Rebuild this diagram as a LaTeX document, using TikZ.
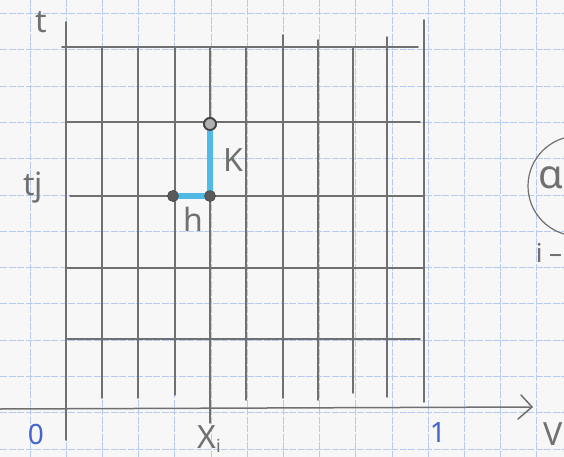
\documentclass[tikz,border=0pt]{standalone}
\usepackage{fontspec}
\setmainfont{Noto Sans}
\definecolor{paper}{RGB}{247,247,247}
\definecolor{gridblue}{RGB}{182,203,238}
\definecolor{pencil}{RGB}{112,112,112}
\definecolor{hl}{RGB}{80,185,228}
\definecolor{ink}{RGB}{70,100,205}
\tikzset{
  paperline/.style={gridblue, line width=0.9pt, dash pattern=on 7pt off 1.5pt},
  gridline/.style={pencil, line width=1.6pt, line cap=round},
  axisline/.style={pencil, line width=1.5pt, line cap=round, line join=round},
  hlpath/.style={hl, line width=5.5pt, line join=round},
  dotnode/.style={circle, fill=pencil!80!black, draw=pencil!60!black, minimum size=11pt, inner sep=0pt},
  opendot/.style={circle, fill=pencil!55, draw=pencil!60!black, line width=1.8pt, minimum size=12pt, inner sep=0pt},
  lbl/.style={text=pencil, inner sep=0pt, font=\fontsize{32}{32}\selectfont},
  numlbl/.style={text=ink, inner sep=0pt, font=\fontsize{28}{28}\selectfont}
}
\begin{document}
\begin{tikzpicture}[x=1pt,y=-1pt]
\useasboundingbox (0,0) rectangle (564,457);
\begin{scope}
\clip (0,0) rectangle (564,457);
\fill[paper] (0,0) rectangle (564,457);
% graph paper
\foreach \k in {-1,...,15} \draw[paperline] ({30+36.2*\k},0) -- ({30+36.2*\k},457);
\foreach \k in {0,...,12} \draw[paperline] (0,{13.5+36.3*\k}) -- (564,{13.5+36.3*\k});
% dark grid verticals
\draw[gridline] (66,22) -- (66,440);
\foreach \x/\a/\b in {102/47/398,138/47/398,175/47/395,210/47/423,246/47/400,283/35/398,318/40/400,353/47/393,387/37/397,424/20/402}
  \draw[gridline] (\x,\a) -- (\x,\b);
% dark grid horizontals
\foreach \y/\a/\b in {47/62/418,122/66/420,196/70/424,268/66/424,339/66/420}
  \draw[gridline] (\a,\y) -- (\b,\y);
% horizontal axis
\coordinate (axL) at (0,409);
\coordinate (axR) at (532,407);
\draw[axisline] (axL) -- (axR);
\draw[axisline] (521,395) -- (axR) -- (518,419);
% highlighted path
\node[dotnode] (p1) at (173,196) {};
\node[dotnode] (p2) at (210,196) {};
\node[opendot] (p3) at (210,124) {};
\draw[hlpath] (p1.center) -- (p2.center) -- (p3.center);
\node[dotnode] at (p1) {};
\node[dotnode] at (p2) {};
\node[opendot] at (p3) {};
% labels
\node[lbl] (lt) at (41,22) {t};
\node[lbl] (ltj) at (33,188) {tj};
\node[lbl] (lh) at (193,219) {h};
\node[lbl] (lk) at (233,160) {K};
\node[lbl, anchor=base] (lx) at (209,448) {X\raisebox{-4pt}{\fontsize{18}{18}\selectfont i}};
\node[lbl] (lv) at (553,434) {V};
\node[numlbl] (l0) at (36,434) {0};
\node[numlbl] (l1) at (438,432) {1};
% right partial drawing
\draw[pencil, line width=1.2pt] (578,186) circle (50);
\node[text=pencil, inner sep=0pt, font=\fontsize{40}{40}\selectfont] (la) at (551,178) {α};
\node[lbl, font=\fontsize{26}{26}\selectfont] (li) at (549,253) {i –};
\end{scope}
\end{tikzpicture}
\end{document}
